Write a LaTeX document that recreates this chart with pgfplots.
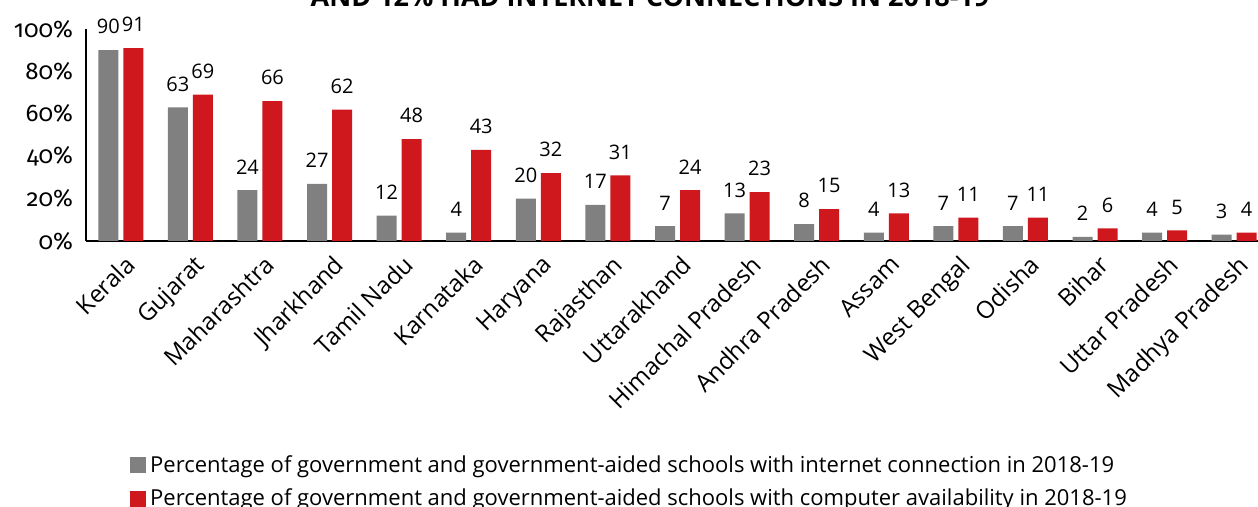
\documentclass[border=0pt]{standalone}
\usepackage{fontspec}
\setmainfont{Open Sans}
\newfontfamily\tickfont[Numbers=OldStyle]{Fira Sans}
\usepackage{pgfplots}
\pgfplotsset{compat=1.18}
\definecolor{netgray}{RGB}{128,128,128}
\definecolor{comred}{RGB}{206,24,30}

\begin{document}
\begin{tikzpicture}
\begin{axis}[
    name=ax,
    scale only axis,
    width=591.5pt, height=106pt,
    xmin=-0.5, xmax=16.5,
    ymin=0, ymax=100,
    ybar=2.5pt, bar width=10pt,
    axis x line*=bottom, axis y line*=left,
    axis line style={-, line width=0.8pt},
    major tick length=0pt,
    clip=false,
    ytick={0,20,...,100},
    /pgf/number format/assume math mode=true,
    yticklabel={\tickfont\pgfmathprintnumber{\tick}\%},
    y tick label style={font=\fontsize{12}{14}\selectfont, xshift=-3pt},
    xtick={0,...,16},
    xticklabels={Kerala, Gujarat, Maharashtra, Jharkhand, Tamil Nadu, Karnataka,
        Haryana, Rajasthan, Uttarakhand, Himachal Pradesh, Andhra Pradesh, Assam,
        West Bengal, Odisha, Bihar, Uttar Pradesh, Madhya Pradesh},
    x tick label style={rotate=45, anchor=north east, yshift=-2pt,
        font=\fontsize{12}{14}\selectfont},
    nodes near coords,
    every node near coord/.append style={font=\fontsize{10}{12}\selectfont, black, yshift=4.5pt},
    legend style={at={(0.037,-0.99)}, anchor=north west, draw=none, fill=none,
        font=\fontsize{11}{13}\selectfont, row sep=3pt, inner sep=0pt},
    legend cell align=left,
    legend image code/.code={\fill[#1] (0pt,-4pt) rectangle (8pt,4pt);},
]
\addplot[fill=netgray, draw=none] coordinates {
    (0,90) (1,63) (2,24) (3,27) (4,12) (5,4) (6,20) (7,17) (8,7)
    (9,13) (10,8) (11,4) (12,7) (13,7) (14,2) (15,4) (16,3)};
\addplot[fill=comred, draw=none] coordinates {
    (0,91) (1,69) (2,66) (3,62) (4,48) (5,43) (6,32) (7,31) (8,24)
    (9,23) (10,15) (11,13) (12,11) (13,11) (14,6) (15,5) (16,4)};
\legend{Percentage of government and government-aided schools with internet connection in 2018-19,
    Percentage of government and government-aided schools with computer availability in 2018-19}
\end{axis}
\node[anchor=base, font=\bfseries\fontsize{13.5}{15}\selectfont]
    at ([xshift=282pt,yshift=117pt]ax.south west) {AND 12\% HAD INTERNET CONNECTIONS IN 2018-19};
\pgfresetboundingbox
\path[use as bounding box] ([xshift=-43pt,yshift=-133pt]ax.south west)
    rectangle ([xshift=586pt,yshift=120.5pt]ax.south west);
\end{tikzpicture}
\end{document}
